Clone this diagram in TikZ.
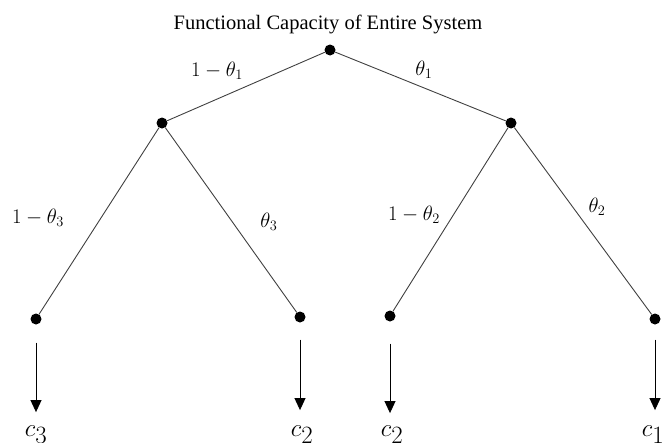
\documentclass[tikz,border=0pt]{standalone}
\usepackage{fontspec}
\setmainfont{Liberation Serif}
\usetikzlibrary{arrows.meta}
\begin{document}
\begin{tikzpicture}[x=1pt,y=-1pt,
  dot/.style={circle,fill=black,inner sep=0pt,minimum size=11pt},
  branch/.style={draw=black!75,line width=0.9pt},
  prob/.style={anchor=base,inner sep=0pt,font=\fontsize{21}{24}\selectfont},
  outcome/.style={anchor=base,inner sep=0pt,font=\fontsize{34}{36}\selectfont},
  flow/.style={draw=black,line width=0.9pt,-{Triangle[width=11pt,length=12pt]}}]
\useasboundingbox (0,0) rectangle (666,442);
\node[anchor=base,inner sep=0pt,font=\fontsize{20.5}{24}\selectfont] (title) at (328,29) {Functional Capacity of Entire System};
\node[dot] (root) at (330,50) {};
\node[dot] (L) at (162,123) {};
\node[dot] (R) at (511,123) {};
\node[dot] (LL) at (36,319) {};
\node[dot] (LR) at (300,317) {};
\node[dot] (RL) at (390,316) {};
\node[dot] (RR) at (655,319) {};
\draw[branch] (root) -- (L);
\draw[branch] (root) -- (R);
\draw[branch] (L) -- (LL);
\draw[branch] (L) -- (LR);
\draw[branch] (R) -- (RL);
\draw[branch] (R) -- (RR);
\node[prob] (p1) at (217,76) {$1-\theta_1$};
\node[prob] (q1) at (424,75) {$\theta_1$};
\node[prob] (p3) at (38,223) {$1-\theta_3$};
\node[prob] (q3) at (269,227) {$\theta_3$};
\node[prob] (p2) at (414,220) {$1-\theta_2$};
\node[prob] (q2) at (597,212) {$\theta_2$};
\node[outcome] (c3) at (36,436) {$c_3$};
\node[outcome] (c2a) at (302,436) {$c_2$};
\node[outcome] (c2b) at (392,436) {$c_2$};
\node[outcome] (c1) at (653,436) {$c_1$};
\draw[flow,shorten <=18pt,shorten >=13pt] (LL) -- (LL |- c3.north);
\draw[flow,shorten <=17pt,shorten >=15pt] (LR) -- (LR |- c2a.north);
\draw[flow,shorten <=22pt,shorten >=12pt] (RL) -- (RL |- c2b.north);
\draw[flow,shorten <=15pt,shorten >=15pt] (RR) -- (RR |- c1.north);
\end{tikzpicture}
\end{document}
